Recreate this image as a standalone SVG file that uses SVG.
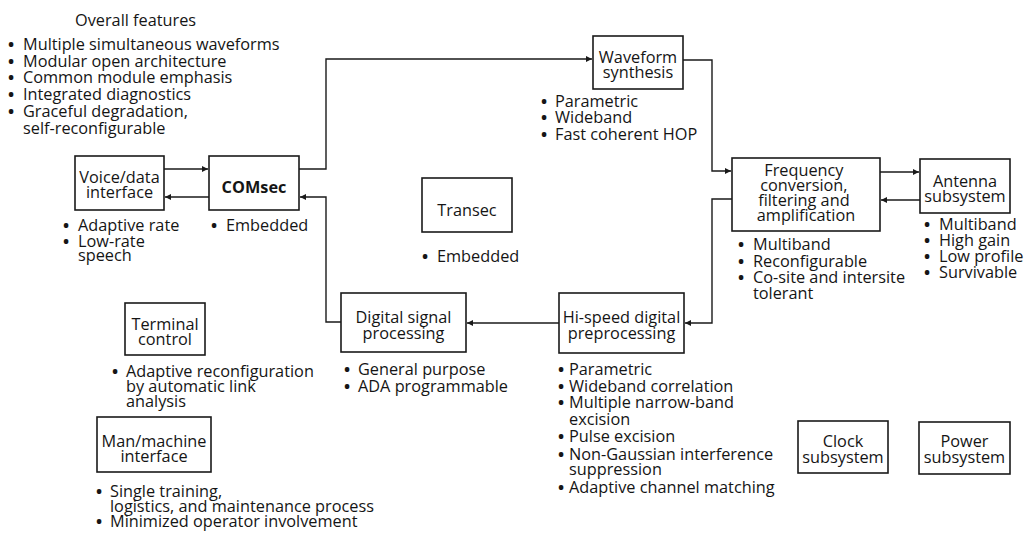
<svg xmlns="http://www.w3.org/2000/svg" width="1030" height="534" viewBox="0 0 1030 534">
  <defs>
    <marker id="arrow" viewBox="0 0 10 10" refX="10" refY="5" markerWidth="8" markerHeight="6" markerUnits="userSpaceOnUse" orient="auto">
      <path d="M0,0 L10,5 L0,10 z" fill="#1a1a1a"/>
    </marker>
    <style>
      text { font-family: "Open Sans", "Liberation Sans", sans-serif; font-size: 16.3px; font-weight: 500; fill: #151515; }
      .box { fill: #ffffff; stroke: #1a1a1a; stroke-width: 1.6; }
      .lbl { text-anchor: middle; }
      .b { font-weight: 700; }
      .dot { font-weight: 700; }
      .wire { fill: none; stroke: #1a1a1a; stroke-width: 1.4; }
      .arr { marker-end: url(#arrow); }
    </style>
  </defs>
  <rect width="1030" height="534" fill="#ffffff"/>

  <!-- general feature list -->
  <g id="overall-features">
    <text x="75" y="26">Overall features</text>
    <text>
      <tspan class="dot" x="8" y="50">•</tspan><tspan x="23" y="50">Multiple simultaneous waveforms</tspan>
      <tspan class="dot" x="8" y="67">•</tspan><tspan x="23" y="67">Modular open architecture</tspan>
      <tspan class="dot" x="8" y="83">•</tspan><tspan x="23" y="83">Common module emphasis</tspan>
      <tspan class="dot" x="8" y="100">•</tspan><tspan x="23" y="100">Integrated diagnostics</tspan>
      <tspan class="dot" x="8" y="117">•</tspan><tspan x="23" y="117">Graceful degradation,</tspan>
      <tspan x="23" y="134">self-reconfigurable</tspan>
    </text>
  </g>

  <!-- connectors -->
  <g id="connectors">
    <path class="wire arr" d="M164,169 H208"/>
    <path class="wire arr" d="M209,197 H165"/>
    <path class="wire arr" d="M299,169 H326 V59 H592"/>
    <path class="wire arr" d="M683,60 H712 V171 H731"/>
    <path class="wire arr" d="M880,172 H919"/>
    <path class="wire arr" d="M920,200 H881"/>
    <path class="wire arr" d="M732,199 H712 V323 H685"/>
    <path class="wire arr" d="M559,323 H467"/>
    <path class="wire arr" d="M341,322 H326 V197 H300"/>
  </g>

  <g id="voice-data">
    <rect class="box" x="75" y="156" width="89" height="54"/>
    <text class="lbl"><tspan x="119.5" y="183">Voice/data</tspan><tspan x="119.5" y="198">interface</tspan></text>
    <text>
      <tspan class="dot" x="63" y="231">•</tspan><tspan x="78" y="231">Adaptive rate</tspan>
      <tspan class="dot" x="63" y="247">•</tspan><tspan x="78" y="247">Low-rate</tspan>
      <tspan x="78" y="261">speech</tspan>
    </text>
  </g>

  <g id="comsec">
    <rect class="box" x="209" y="156" width="90" height="54"/>
    <text class="lbl b" x="254" y="193">COMsec</text>
    <text><tspan class="dot" x="211" y="231">•</tspan><tspan x="226" y="231">Embedded</tspan></text>
  </g>

  <g id="waveform">
    <rect class="box" x="593" y="36" width="90" height="53"/>
    <text class="lbl"><tspan x="638" y="63">Waveform</tspan><tspan x="638" y="78">synthesis</tspan></text>
    <text>
      <tspan class="dot" x="541" y="107">•</tspan><tspan x="555" y="107">Parametric</tspan>
      <tspan class="dot" x="541" y="123">•</tspan><tspan x="555" y="123">Wideband</tspan>
      <tspan class="dot" x="541" y="140">•</tspan><tspan x="555" y="140">Fast coherent HOP</tspan>
    </text>
  </g>

  <g id="transec">
    <rect class="box" x="422" y="178" width="90" height="54"/>
    <text class="lbl" x="467" y="216">Transec</text>
    <text><tspan class="dot" x="422" y="262">•</tspan><tspan x="437" y="262">Embedded</tspan></text>
  </g>

  <g id="frequency">
    <rect class="box" x="732" y="158" width="148" height="73"/>
    <text class="lbl">
      <tspan x="806" y="176">Frequency</tspan>
      <tspan x="806" y="191">conversion,</tspan>
      <tspan x="806" y="206">filtering and</tspan>
      <tspan x="806" y="221">amplification</tspan>
    </text>
    <text>
      <tspan class="dot" x="738" y="250">•</tspan><tspan x="753" y="250">Multiband</tspan>
      <tspan class="dot" x="738" y="267">•</tspan><tspan x="753" y="267">Reconfigurable</tspan>
      <tspan class="dot" x="738" y="283">•</tspan><tspan x="753" y="283">Co-site and intersite</tspan>
      <tspan x="753" y="299">tolerant</tspan>
    </text>
  </g>

  <g id="antenna">
    <rect class="box" x="920" y="159" width="90" height="54"/>
    <text class="lbl"><tspan x="965" y="187">Antenna</tspan><tspan x="965" y="202">subsystem</tspan></text>
    <text>
      <tspan class="dot" x="924" y="230">•</tspan><tspan x="939" y="230">Multiband</tspan>
      <tspan class="dot" x="924" y="246">•</tspan><tspan x="939" y="246">High gain</tspan>
      <tspan class="dot" x="924" y="262">•</tspan><tspan x="939" y="262">Low profile</tspan>
      <tspan class="dot" x="924" y="278">•</tspan><tspan x="939" y="278">Survivable</tspan>
    </text>
  </g>

  <g id="dsp">
    <rect class="box" x="341" y="293" width="125" height="59"/>
    <text class="lbl"><tspan x="403.5" y="323">Digital signal</tspan><tspan x="403.5" y="339">processing</tspan></text>
    <text>
      <tspan class="dot" x="344" y="375">•</tspan><tspan x="358" y="375">General purpose</tspan>
      <tspan class="dot" x="344" y="392">•</tspan><tspan x="358" y="392">ADA programmable</tspan>
    </text>
  </g>

  <g id="preprocessing">
    <rect class="box" x="559" y="293" width="125" height="60"/>
    <text class="lbl"><tspan x="621.5" y="323">Hi-speed digital</tspan><tspan x="621.5" y="339">preprocessing</tspan></text>
    <text>
      <tspan class="dot" x="558" y="375">•</tspan><tspan x="569" y="375">Parametric</tspan>
      <tspan class="dot" x="558" y="392">•</tspan><tspan x="569" y="392">Wideband correlation</tspan>
      <tspan class="dot" x="558" y="408">•</tspan><tspan x="569" y="408">Multiple narrow-band</tspan>
      <tspan x="569" y="425">excision</tspan>
      <tspan class="dot" x="558" y="442">•</tspan><tspan x="569" y="442">Pulse excision</tspan>
      <tspan class="dot" x="558" y="460">•</tspan><tspan x="569" y="460">Non-Gaussian interference</tspan>
      <tspan x="569" y="475">suppression</tspan>
      <tspan class="dot" x="558" y="493">•</tspan><tspan x="569" y="493">Adaptive channel matching</tspan>
    </text>
  </g>

  <g id="terminal-control">
    <rect class="box" x="125" y="303" width="80" height="52"/>
    <text class="lbl"><tspan x="165" y="330">Terminal</tspan><tspan x="165" y="345">control</tspan></text>
    <text>
      <tspan class="dot" x="112" y="377">•</tspan><tspan x="126" y="377">Adaptive reconfiguration</tspan>
      <tspan x="126" y="392">by automatic link</tspan>
      <tspan x="126" y="407">analysis</tspan>
    </text>
  </g>

  <g id="man-machine">
    <rect class="box" x="97" y="417" width="114" height="55"/>
    <text class="lbl"><tspan x="154" y="447">Man/machine</tspan><tspan x="154" y="462">interface</tspan></text>
    <text>
      <tspan class="dot" x="96" y="497">•</tspan><tspan x="110" y="497">Single training,</tspan>
      <tspan x="110" y="512">logistics, and maintenance process</tspan>
      <tspan class="dot" x="96" y="527">•</tspan><tspan x="110" y="527">Minimized operator involvement</tspan>
    </text>
  </g>

  <g id="clock">
    <rect class="box" x="798" y="421" width="90" height="52"/>
    <text class="lbl"><tspan x="843" y="447">Clock</tspan><tspan x="843" y="463">subsystem</tspan></text>
  </g>

  <g id="power">
    <rect class="box" x="919" y="422" width="91" height="52"/>
    <text class="lbl"><tspan x="964.5" y="447">Power</tspan><tspan x="964.5" y="463">subsystem</tspan></text>
  </g>
</svg>
